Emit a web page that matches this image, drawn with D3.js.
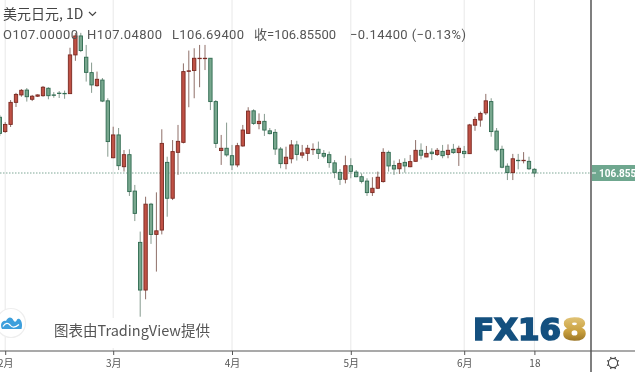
<!DOCTYPE html>
<html>
<head>
<meta charset="utf-8">
<script src="https://d3js.org/d3.v7.min.js"></script>
<style>
html, body { margin: 0; padding: 0; background: #fff; overflow: hidden; }
svg { display: block; filter: blur(0.3px); }
</style>
</head>
<body>
<div id="chart"></div>
<script>
// daily bars, oldest first
var opens = [109.03,108.47,108.75,109.61,109.90,110.09,109.73,109.85,109.87,110.16,
  109.90,109.97,109.96,109.95,111.46,112.20,111.37,110.77,110.26,110.48,
  109.67,107.45,108.34,107.10,107.57,106.15,104.15,102.29,105.64,104.46,
  104.63,107.27,105.87,107.66,108.05,110.82,110.85,111.33,111.33,111.33,
  109.64,107.73,107.82,107.53,107.17,107.91,108.40,109.28,108.78,108.87,
  108.50,108.44,107.79,107.22,107.41,107.95,107.55,107.62,107.78,107.78,
  107.62,107.57,107.25,106.88,106.61,107.14,106.89,106.71,106.54,106.09,
  106.26,106.52,107.66,107.15,107.02,107.27,107.10,107.31,107.74,107.48,
  107.67,107.58,107.70,107.58,107.78,107.65,107.70,107.61,108.72,108.92,
  109.20,109.64,108.49,107.78,107.12,106.87,107.35,107.35,107.31,107.00];
var highs = [109.12,108.84,109.70,109.98,110.13,110.17,109.90,109.92,110.25,110.20,
  110.01,110.05,110.07,111.74,112.32,112.32,111.85,111.16,110.81,110.56,
  109.77,108.66,108.61,107.75,107.78,106.39,104.57,105.93,105.69,106.10,
  108.56,107.49,108.14,108.73,111.13,111.63,111.72,111.85,111.85,111.34,
  109.70,108.34,108.82,107.95,108.03,108.73,109.42,109.34,109.18,109.16,
  108.61,108.57,107.87,107.88,108.14,108.11,107.95,107.95,108.01,108.08,
  107.75,107.69,107.36,107.01,107.53,107.43,106.97,106.84,106.65,106.69,
  106.91,107.82,107.73,107.34,107.39,107.43,107.56,108.14,108.01,107.91,
  107.82,107.83,107.95,107.97,107.99,107.92,107.91,108.77,109.05,109.25,
  109.94,109.77,108.61,107.92,107.23,107.60,107.60,107.67,107.49,107.048];
var lows = [108.30,108.42,108.65,109.43,109.83,109.64,109.66,109.82,109.83,109.73,
  109.79,109.78,109.75,109.94,111.23,111.57,110.42,109.98,110.22,109.62,
  107.49,107.43,106.97,106.91,105.96,104.98,101.25,101.93,104.09,103.01,
  104.46,105.15,105.80,106.78,108.01,109.42,109.77,110.20,110.87,109.31,
  107.83,107.17,107.49,106.97,107.08,107.88,108.38,108.73,108.56,108.30,
  108.36,107.56,107.04,107.00,107.23,107.34,107.43,107.32,107.56,107.40,
  107.43,107.06,106.65,106.39,106.45,106.65,106.69,106.45,105.96,105.96,
  106.23,106.48,106.91,106.78,106.82,106.87,107.08,107.30,107.39,107.47,
  107.36,107.52,107.43,107.43,107.60,107.13,107.44,107.60,108.50,108.66,
  109.12,108.27,107.69,107.04,106.58,106.58,107.00,107.23,106.97,106.694];
var closes = [108.40,108.75,109.61,109.92,110.08,109.83,109.85,109.90,110.20,109.87,
  109.89,109.96,109.95,111.46,112.20,111.63,110.78,110.29,110.51,109.66,
  108.08,108.34,107.14,107.57,106.13,105.28,102.29,105.64,104.46,104.60,
  108.01,105.87,107.69,108.09,110.81,110.84,111.33,111.33,111.33,109.64,
  108.01,107.82,107.56,107.17,107.92,108.53,109.27,108.79,108.87,108.53,
  108.39,107.79,107.22,107.47,107.95,107.58,107.64,107.82,107.78,107.62,
  107.51,107.26,106.88,106.61,107.14,106.92,106.71,106.53,106.09,106.26,
  106.69,107.66,107.13,107.01,107.23,107.13,107.30,107.74,107.55,107.62,
  107.61,107.74,107.53,107.74,107.65,107.82,107.61,108.73,108.94,109.18,
  109.67,108.47,107.76,107.08,106.87,107.41,107.34,107.35,107.02,106.855];

var tickIndex = [1, 21, 43, 65, 86, 99];
var tickLabels = ["2月", "3月", "4月", "5月", "6月", "18"];
var lastPrice = 106.855;
var lastLabel = "106.8550";

var width = 635;
var height = 372;
var paneRight = 591;
var paneBottom = 351;

var upFill = "#bf5145", upLine = "#7b2a22", upWick = "#8f6f68";
var downFill = "#78a78e", downLine = "#2f6a50", downWick = "#869a8e";

var bars = opens.map(function(o, i) {
  return { i: i, o: o, h: highs[i], l: lows[i], c: closes[i] };
});

var x = d3.scaleLinear().domain([0, 99]).range([-0.2, 534.4]);
var y = d3.scaleLinear().domain([99.913, 113.602]).range([paneBottom, 0]);

var svg = d3.select("#chart").append("svg")
  .attr("width", width).attr("height", height);

var defs = svg.append("defs");
var gold = defs.append("linearGradient").attr("id", "gold")
  .attr("x1", 0).attr("y1", 0).attr("x2", 0).attr("y2", 1);
gold.append("stop").attr("offset", "0%").attr("stop-color", "#e9cf8a");
gold.append("stop").attr("offset", "55%").attr("stop-color", "#c9a03e");
gold.append("stop").attr("offset", "100%").attr("stop-color", "#7d5a16");

// grid
svg.append("g").selectAll("line").data(tickIndex).enter().append("line")
  .attr("x1", d => x(d)).attr("x2", d => x(d))
  .attr("y1", 0).attr("y2", paneBottom)
  .attr("stroke", "#e8e8e8").attr("stroke-width", 1);

// last price line
svg.append("line")
  .attr("x1", 0).attr("x2", paneRight)
  .attr("y1", y(lastPrice)).attr("y2", y(lastPrice))
  .attr("stroke", "#7fa796").attr("stroke-width", 1)
  .attr("stroke-dasharray", "1.5 1.5");

// candles
var candles = svg.append("g").selectAll("g").data(bars).enter().append("g");
var isUp = d => d.c >= d.o;
candles.append("line")
  .attr("x1", d => x(d.i)).attr("x2", d => x(d.i))
  .attr("y1", d => y(d.h)).attr("y2", d => y(d.l))
  .attr("stroke", d => isUp(d) ? upWick : downWick)
  .attr("stroke-width", 1);
var bodyW = (x(1) - x(0)) * 0.62;
candles.append("rect")
  .attr("x", d => x(d.i) - bodyW / 2)
  .attr("width", bodyW)
  .attr("y", d => y(Math.max(d.o, d.c)))
  .attr("height", d => Math.max(0.4, Math.abs(y(d.o) - y(d.c))))
  .attr("fill", d => isUp(d) ? upFill : downFill)
  .attr("stroke", d => isUp(d) ? upLine : downLine)
  .attr("stroke-width", 0.9);

// watermark
svg.append("rect")
  .attr("x", 48).attr("y", 318).attr("width", 164).attr("height", 30)
  .attr("fill", "#fff");
svg.append("circle")
  .attr("cx", 11).attr("cy", 323).attr("r", 14.5)
  .attr("fill", "#fff").attr("stroke", "#eeeeee").attr("stroke-width", 1.2);
svg.append("path")
  .attr("d", "M2,329 C-0.5,325 2,319.5 6,321 C8,316 12,316.5 13.5,320.5 C15,322.5 16,322 17,319.5 C19.5,317 23.5,322 21.5,329 Z")
  .attr("fill", "#3d9fdc");
svg.append("path")
  .attr("d", "M3,326.5 C5.5,322.5 8,322.5 10,325 C12,328 15,328 19,324.5")
  .attr("fill", "none").attr("stroke", "#fff").attr("stroke-width", 1.3);
svg.append("text")
  .attr("x", 54).attr("y", 336)
  .attr("font-family", "'Noto Sans CJK SC', sans-serif")
  .attr("font-size", 14.5).attr("fill", "#555")
  .text("图表由TradingView提供");

// FX168 logo
var logo = svg.append("g")
  .attr("font-family", "'DejaVu Sans', sans-serif")
  .attr("font-weight", "bold").attr("font-size", 30);
logo.append("text")
  .attr("x", 473).attr("y", 340)
  .attr("textLength", 88).attr("lengthAdjust", "spacingAndGlyphs")
  .attr("fill", "#14507f").attr("stroke", "#14507f").attr("stroke-width", 1.6)
  .text("FX16");
logo.append("text")
  .attr("x", 562).attr("y", 340)
  .attr("textLength", 25).attr("lengthAdjust", "spacingAndGlyphs")
  .attr("fill", "url(#gold)").attr("stroke", "url(#gold)").attr("stroke-width", 1.6)
  .text("8");

// axes frame
svg.append("line")
  .attr("x1", 0).attr("x2", width).attr("y1", paneBottom).attr("y2", paneBottom)
  .attr("stroke", "#555").attr("stroke-width", 1.2);
svg.append("line")
  .attr("x1", paneRight).attr("x2", paneRight).attr("y1", 0).attr("y2", height)
  .attr("stroke", "#555").attr("stroke-width", 1.5);

var timeAxis = d3.axisBottom(x)
  .tickValues(tickIndex)
  .tickFormat((d, i) => tickLabels[i])
  .tickSize(4).tickPadding(5);
var axisG = svg.append("g")
  .attr("transform", "translate(0," + paneBottom + ")")
  .call(timeAxis);
axisG.select(".domain").remove();
axisG.selectAll("line").attr("stroke", "#555");
axisG.selectAll("text")
  .attr("font-family", "'Noto Sans CJK SC', sans-serif")
  .attr("font-size", 10).attr("fill", "#555");

// last price label
svg.append("rect")
  .attr("x", paneRight + 1).attr("y", y(lastPrice) - 8)
  .attr("width", width - paneRight).attr("height", 16)
  .attr("fill", "#6fa78f");
svg.append("line")
  .attr("x1", paneRight + 1).attr("x2", paneRight + 5)
  .attr("y1", y(lastPrice)).attr("y2", y(lastPrice))
  .attr("stroke", "#fff");
svg.append("text")
  .attr("x", 599).attr("y", y(lastPrice) + 3.5)
  .attr("font-family", "Roboto, sans-serif").attr("font-weight", "bold")
  .attr("font-size", 10).attr("fill", "#fff")
  .text(lastLabel);

// settings gear
var gear = svg.append("g")
  .attr("transform", "translate(613,363)")
  .attr("fill", "none").attr("stroke", "#444");
gear.append("circle").attr("r", 4.6).attr("stroke-width", 1.1);
gear.selectAll("line").data(d3.range(8)).enter().append("line")
  .attr("x1", 0).attr("x2", 0).attr("y1", -4.6).attr("y2", -6.4)
  .attr("stroke-width", 1.3)
  .attr("transform", d => "rotate(" + (d * 45 + 22.5) + ")");

// legend
var legendFont = "Roboto, 'Noto Sans CJK SC', sans-serif";
svg.append("text")
  .attr("x", 3).attr("y", 19)
  .attr("font-family", "'Noto Sans CJK SC', sans-serif")
  .attr("font-size", 14).attr("fill", "#444")
  .text("美元日元, 1D");
svg.append("path")
  .attr("d", "M89,12 L92.5,15.5 L96,12")
  .attr("fill", "none").attr("stroke", "#444").attr("stroke-width", 1.2);

var legendNames = ["O107.00000", "H107.04800", "L106.69400", "收=106.85500", "−0.14400 (−0.13%)"];
var legendX = [3, 87, 172, 254, 350];
var legendW = [75, 75, 72, 82, 116];
svg.append("g").selectAll("text").data(legendNames).enter().append("text")
  .attr("x", (d, i) => legendX[i]).attr("y", 39)
  .attr("textLength", (d, i) => legendW[i])
  .attr("font-family", legendFont)
  .attr("font-size", 13).attr("fill", "#555")
  .text(d => d);
</script>
</body>
</html>
